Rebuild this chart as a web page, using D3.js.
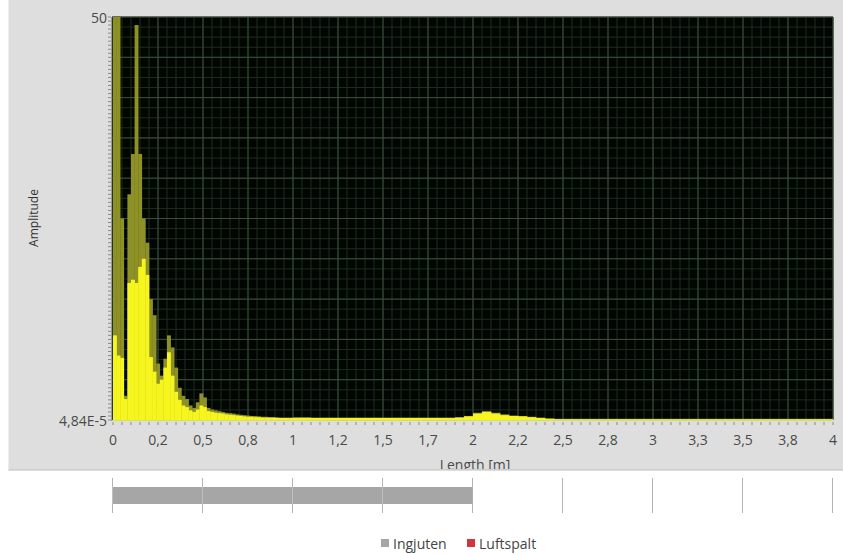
<!DOCTYPE html>
<html>
<head>
<meta charset="utf-8">
<script src="https://cdn.jsdelivr.net/npm/d3@7"></script>
<style>
  body { margin: 0; background: #fff; }
  text { font-family: "Open Sans", "DejaVu Sans", sans-serif; }
</style>
</head>
<body>
<div id="chart"></div>
<script>
// Near field spectrum, 0 - 1 m in 0.02 m bins
const nearStep = 0.02;
const nearPeak = [50, 50, 25, 3, 28, 33, 49, 33, 25, 22,
  15, 13, 7, 5.5, 7.6, 10.5, 9, 6.5, 4, 3,
  2.6, 1.8, 1.5, 2.2, 3.3, 2.8, 1.5, 1.3, 1.2, 1.1,
  1.0, 0.9, 0.85, 0.8, 0.7, 0.65, 0.6, 0.55, 0.5, 0.5,
  0.45, 0.4, 0.4, 0.35, 0.35, 0.35, 0.3, 0.3, 0.3, 0.3];
const nearMean = [10.5, 8, 7.7, 2.6, 17, 17.4, 17, 19, 20, 18,
  7.8, 6, 4.5, 5, 6.5, 8.4, 5.5, 3.5, 2.5, 1.8,
  1.6, 1.2, 1.0, 1.3, 1.8, 1.6, 1.1, 1.0, 0.9, 0.85,
  0.8, 0.7, 0.65, 0.6, 0.55, 0.5, 0.45, 0.4, 0.4, 0.35,
  0.35, 0.3, 0.3, 0.3, 0.3, 0.25, 0.25, 0.25, 0.25, 0.25];

// Far field spectrum, 1 - 4 m in 0.05 m bins
const farStep = 0.05;
const farPeak = [0.35, 0.35, 0.3, 0.3, 0.3, 0.3, 0.3, 0.3, 0.3, 0.3,
  0.3, 0.3, 0.3, 0.3, 0.3, 0.3, 0.3, 0.3, 0.35, 0.5,
  0.9, 1.1, 0.9, 0.7, 0.55, 0.5, 0.4, 0.3, 0.2, 0.15,
  0.15, 0.15, 0.15, 0.15, 0.15, 0.15, 0.15, 0.15, 0.15, 0.15,
  0.15, 0.15, 0.15, 0.15, 0.15, 0.15, 0.15, 0.15, 0.15, 0.15,
  0.15, 0.15, 0.15, 0.15, 0.15, 0.15, 0.15, 0.15, 0.15, 0.15];
const farMean = [0.25, 0.25, 0.25, 0.25, 0.25, 0.25, 0.25, 0.25, 0.25, 0.25,
  0.25, 0.25, 0.25, 0.25, 0.25, 0.25, 0.25, 0.25, 0.3, 0.45,
  0.8, 1.0, 0.8, 0.6, 0.5, 0.45, 0.35, 0.25, 0.15, 0.1,
  0.1, 0.1, 0.1, 0.1, 0.1, 0.1, 0.1, 0.1, 0.1, 0.1,
  0.1, 0.1, 0.1, 0.1, 0.1, 0.1, 0.1, 0.1, 0.1, 0.1,
  0.1, 0.1, 0.1, 0.1, 0.1, 0.1, 0.1, 0.1, 0.1, 0.1];

const xTickValues = d3.range(0, 4.001, 0.25);
const xTickLabels = ["0", "0,2", "0,5", "0,8", "1", "1,2", "1,5", "1,7", "2",
  "2,2", "2,5", "2,8", "3", "3,3", "3,5", "3,8", "4"];
const yMin = 4.84e-5, yMax = 50;
const yTickLabels = ["4,84E-5", "50"];

// Bottom strip: material segments along the length
const segNames = ["Ingjuten", "Luftspalt"];
const segStart = [0, 2];
const segEnd = [2, 2];
const segColors = ["#a6a6a6", "#d0343c"];
const stripTicks = d3.range(0, 4.001, 0.5);

const W = 843, H = 554;
const svg = d3.select("#chart").append("svg")
  .attr("width", W).attr("height", H);

// gray panel behind the graph
svg.append("rect").attr("x", 8).attr("y", 0).attr("width", W - 8).attr("height", 470)
  .attr("fill", "#dedede");
svg.append("line").attr("x1", 8).attr("x2", W).attr("y1", 470).attr("y2", 470)
  .attr("stroke", "#bdbdbd");
svg.append("line").attr("x1", 8.5).attr("x2", 8.5).attr("y1", 0).attr("y2", 470)
  .attr("stroke", "#ececec");

const x = d3.scaleLinear().domain([0, 4]).range([113, 833]);
const y = d3.scaleLinear().domain([yMin, yMax]).range([420, 17]);

// plot background
svg.append("rect").attr("x", 112).attr("y", 17).attr("width", 833 - 112).attr("height", 403)
  .attr("fill", "#020602");

const grid = svg.append("g");
// minor grid
grid.selectAll(".vmin").data(d3.range(0, 4.001, 0.05)).enter().append("line")
  .attr("x1", d => x(d)).attr("x2", d => x(d)).attr("y1", 17).attr("y2", 420)
  .attr("stroke", "#1d2d1d").attr("stroke-width", 1);
grid.selectAll(".hmin").data(d3.range(0, 50.001, 1.25)).enter().append("line")
  .attr("x1", 112).attr("x2", 833).attr("y1", d => y(d)).attr("y2", d => y(d))
  .attr("stroke", "#1d2d1d").attr("stroke-width", 1);
// major grid
grid.selectAll(".vmaj").data(xTickValues).enter().append("line")
  .attr("x1", d => x(d)).attr("x2", d => x(d)).attr("y1", 17).attr("y2", 420)
  .attr("stroke", "#3a4e3a").attr("stroke-width", 1);
grid.selectAll(".hmaj").data(d3.range(0, 50.001, 5)).enter().append("line")
  .attr("x1", 112).attr("x2", 833).attr("y1", d => y(d)).attr("y2", d => y(d))
  .attr("stroke", "#3a4e3a").attr("stroke-width", 1);

// spectrum bars
function drawBars(vals, start, step, color) {
  svg.append("g").selectAll("rect").data(vals).enter().append("rect")
    .attr("x", (d, i) => x(start + i * step))
    .attr("width", (d, i) => x(start + (i + 1) * step) - x(start + i * step) + 0.3)
    .attr("y", d => y(d))
    .attr("height", d => y(yMin) - y(d))
    .attr("fill", color);
}
drawBars(nearPeak, 0, nearStep, "#8e9226");
drawBars(farPeak, 1, farStep, "#8e9226");
drawBars(nearMean, 0, nearStep, "#f6f61e");
drawBars(farMean, 1, farStep, "#f6f61e");

// frame
svg.append("line").attr("x1", 112).attr("x2", 833).attr("y1", 16.5).attr("y2", 16.5)
  .attr("stroke", "#6a6a6a");
svg.append("line").attr("x1", 112).attr("x2", 833).attr("y1", 420.5).attr("y2", 420.5)
  .attr("stroke", "#d6dc70");
svg.append("line").attr("x1", 111.5).attr("x2", 111.5).attr("y1", 17).attr("y2", 421)
  .attr("stroke", "#9a9a9a");

// y axis minor ticks
svg.append("g").selectAll("line").data(d3.range(0, 50.001, 0.5)).enter().append("line")
  .attr("x1", 108).attr("x2", 111).attr("y1", d => y(d)).attr("y2", d => y(d))
  .attr("stroke", "#8a8a8a");
// x axis small ticks
svg.append("g").selectAll("line").data(d3.range(0, 4.001, 0.05)).enter().append("line")
  .attr("x1", d => x(d)).attr("x2", d => x(d)).attr("y1", 422).attr("y2", 425)
  .attr("stroke", "#8a8a8a");

// tick labels
svg.append("g").selectAll("text").data(xTickValues).enter().append("text")
  .attr("x", d => x(d)).attr("y", 445)
  .attr("text-anchor", "middle").attr("font-size", 14).attr("fill", "#4a4a4a")
  .text((d, i) => xTickLabels[i]);
svg.append("g").selectAll("text").data([yMin, yMax]).enter().append("text")
  .attr("x", 107).attr("y", d => y(d) + 6)
  .attr("text-anchor", "end").attr("font-size", 14).attr("fill", "#4a4a4a")
  .text((d, i) => yTickLabels[i]);

svg.append("text")
  .attr("transform", "translate(38,218) rotate(-90)")
  .attr("text-anchor", "middle").attr("font-size", 12).attr("fill", "#333")
  .text("Amplitude");

// axis title, clipped by the panel edge
svg.append("clipPath").attr("id", "panelClip").append("rect")
  .attr("x", 0).attr("y", 0).attr("width", W).attr("height", 469);
svg.append("text").attr("clip-path", "url(#panelClip)")
  .attr("x", 475).attr("y", 470)
  .attr("text-anchor", "middle").attr("font-size", 14).attr("fill", "#4a4a4a")
  .text("Length [m]");

// bottom strip
const xs = d3.scaleLinear().domain([0, 4]).range([112.5, 832.5]);
svg.append("g").selectAll("line").data(stripTicks).enter().append("line")
  .attr("x1", d => xs(d)).attr("x2", d => xs(d)).attr("y1", 478).attr("y2", 513)
  .attr("stroke", "#b4b4b4");
svg.append("g").selectAll("rect").data(segNames).enter().append("rect")
  .attr("x", (d, i) => xs(segStart[i]))
  .attr("width", (d, i) => xs(segEnd[i]) - xs(segStart[i]))
  .attr("y", 487).attr("height", 17)
  .attr("fill", (d, i) => segColors[i]);
svg.append("g").selectAll("line").data(stripTicks.filter(d => d < 2)).enter().append("line")
  .attr("x1", d => xs(d)).attr("x2", d => xs(d)).attr("y1", 487).attr("y2", 504)
  .attr("stroke", "#bfbfbf");

// legend
const legend = svg.append("g");
const legX = [381, 467];
segNames.forEach((name, i) => {
  legend.append("rect").attr("x", legX[i]).attr("y", 539).attr("width", 8).attr("height", 8)
    .attr("fill", segColors[i]);
  legend.append("text").attr("x", legX[i] + 12).attr("y", 549)
    .attr("font-size", 14).attr("fill", "#444").text(name);
});
</script>
</body>
</html>
